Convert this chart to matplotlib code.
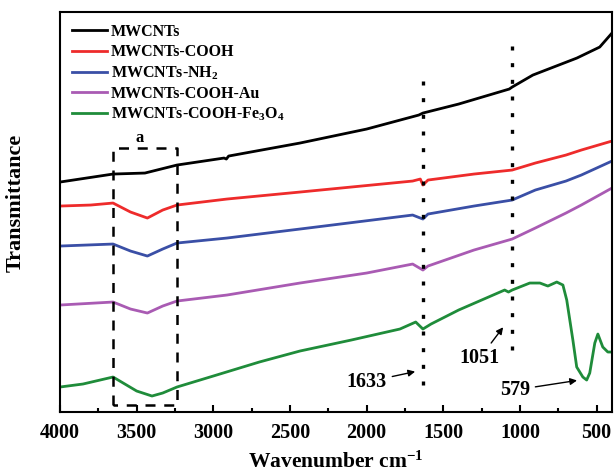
import numpy as np
import matplotlib
matplotlib.use("Agg")
import matplotlib.pyplot as plt
import matplotlib.ticker as ticker

plt.rcParams["font.family"] = "Liberation Serif"
plt.rcParams["font.weight"] = "bold"
plt.rcParams["mathtext.fontset"] = "custom"
plt.rcParams["mathtext.rm"] = "Liberation Serif:bold"
plt.rcParams["mathtext.it"] = "Liberation Serif:bold"
plt.rcParams["mathtext.bf"] = "Liberation Serif:bold"

# wavenumber (cm^-1) and transmittance (arb. units)
wn_black = [4000, 3654, 3446, 3237, 2930, 2915, 2900, 2435, 2000, 1660, 1633, 1400, 1070, 1051, 916, 629, 480, 400]
t_black = [230, 238, 239, 247, 254, 253, 256, 269, 283, 297, 299, 308, 323, 325, 337, 354, 365, 379]

wn_red = [4000, 3800, 3654, 3540, 3430, 3330, 3237, 2911, 2435, 1700, 1650, 1633, 1600, 1300, 1051, 900, 700, 600, 400]
t_red = [206, 207, 209, 200, 194, 202, 207, 213, 220, 231, 233, 227, 232, 238, 242, 249, 257, 262, 271]

wn_blue = [4000, 3654, 3540, 3430, 3330, 3237, 2911, 2435, 1700, 1633, 1600, 1300, 1051, 900, 700, 600, 400]
t_blue = [166, 168, 161, 156, 163, 169, 174, 183, 197, 193, 198, 206, 212, 222, 231, 237, 251]

wn_mag = [4000, 3654, 3540, 3430, 3330, 3237, 2911, 2435, 2000, 1700, 1633, 1600, 1300, 1051, 900, 700, 600, 400]
t_mag = [107, 110, 103, 99, 106, 111, 117, 129, 139, 148, 142, 146, 162, 173, 184, 199, 207, 224]

wn_green = [4000, 3850, 3654, 3500, 3400, 3330, 3237, 3000, 2700, 2435, 2100, 1783, 1680, 1633, 1580,
            1400, 1250, 1100, 1075, 1051, 936, 870, 818, 760, 720, 695, 655, 630, 590, 565, 545,
            512, 492, 460, 427, 400]
t_green = [25, 28, 35, 21, 16, 19, 25, 36, 50, 61, 72, 83, 90, 83, 88,
           102, 112, 122, 120, 122, 129, 129, 126, 130, 127, 112, 72, 45, 35, 32, 39,
           69, 78, 65, 60, 60]

labels = ["MWCNTs", "MWCNTs-COOH", "MWCNTs-NH$_2$", "MWCNTs-COOH-Au", "MWCNTs-COOH-Fe$_3$O$_4$"]
colors = ["#000000", "#ee2b2b", "#3a4fa6", "#a95bb3", "#1f8c3a"]

fig = plt.figure(figsize=(6.14, 4.75), dpi=100)
ax = fig.add_axes([0.0977, 0.1326, 0.899, 0.842])

series = [(wn_black, t_black), (wn_red, t_red), (wn_blue, t_blue), (wn_mag, t_mag), (wn_green, t_green)]
for (x, y), lab, c in zip(series, labels, colors):
    ax.plot(x, y, color=c, lw=2.0, label=lab)

# dotted marker lines
ax.plot([1633, 1633], [27, 340], color="black", lw=2.4, linestyle=(0, (1.2, 3.8)))
ax.plot([1051, 1051], [62, 374], color="black", lw=2.4, linestyle=(0, (1.2, 3.8)))

# dashed box around the O-H band
ax.plot([3654, 3654, 3237, 3237, 3654], [7, 264, 264, 7, 7],
        color="black", lw=1.8, linestyle=(0, (4, 3.5)))
ax.text(3480, 266, "a", ha="center", va="bottom", fontsize=12, fontweight="bold")

arrow = dict(arrowstyle="-|>", color="black", lw=1.0, mutation_scale=10)
ax.annotate("1633", xy=(1666, 41), xytext=(2000, 30), ha="center", va="center",
            fontsize=14.5, fontweight="bold", arrowprops=arrow)
ax.annotate("1051", xy=(1099, 87), xytext=(1262, 54), ha="center", va="center",
            fontsize=14.5, fontweight="bold", arrowprops=arrow)
ax.annotate("579", xy=(610, 32), xytext=(1034, 22), ha="center", va="center",
            fontsize=14.5, fontweight="bold", arrowprops=arrow)

ax.set_xlim(4000, 400)
ax.set_ylim(0, 400)
ax.xaxis.set_major_locator(ticker.MultipleLocator(500))
ax.xaxis.set_minor_locator(ticker.MultipleLocator(250))
ax.tick_params(axis="x", which="major", direction="in", length=5, width=1.5, labelsize=14.5, pad=8)
ax.tick_params(axis="x", which="minor", direction="in", length=3, width=1.5)
ax.set_yticks([])
for lbl in ax.get_xticklabels():
    lbl.set_fontweight("bold")
for sp in ax.spines.values():
    sp.set_linewidth(1.5)

ax.set_xlabel("Wavenumber cm$^{-1}$", fontsize=15.5, fontweight="bold", labelpad=6)
ax.set_ylabel("Transmittance", fontsize=16, fontweight="bold")
ax.yaxis.set_label_coords(-0.062, 0.524)

leg = ax.legend(loc="upper left", frameon=False, fontsize=11.5, handlelength=2.2,
                handletextpad=0.25, labelspacing=0.26, borderaxespad=0.3,
                borderpad=0.45)
for t in leg.get_texts():
    t.set_fontweight("bold")

fig.savefig("out.png", dpi=100)
